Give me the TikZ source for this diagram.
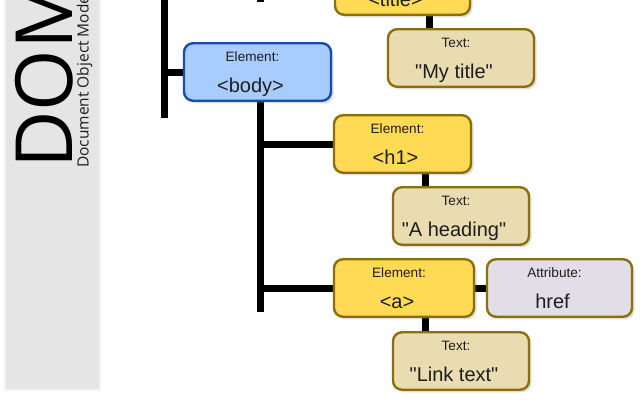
\documentclass[tikz,border=0pt]{standalone}
\usepackage{fontspec}
\setmainfont{Liberation Sans}
\newfontfamily\boxfont{Liberation Sans}
\newfontfamily\domfont{Open Sans}
\usepackage{tikz}
\usetikzlibrary{calc, shadows, backgrounds}
\definecolor{elemfill}{RGB}{255,218,85}
\definecolor{txtfill}{RGB}{232,220,176}
\definecolor{attrfill}{RGB}{226,221,230}
\definecolor{bodyfill}{RGB}{168,204,255}
\definecolor{bodyrim}{RGB}{22,76,170}
\definecolor{boxrim}{RGB}{138,112,8}
\definecolor{stripgray}{RGB}{229,229,229}
\definecolor{striprim}{RGB}{243,243,243}
\definecolor{ink}{RGB}{30,30,30}

\begin{document}
\begin{tikzpicture}[x=1pt, y=-1pt,
  box/.style={draw=boxrim, line width=2.4pt, rounded corners=9pt,
              minimum height=57.5pt, inner sep=0pt,
              drop shadow={shadow xshift=2.5pt, shadow yshift=-2.5pt, opacity=.25}},
  elem/.style={fill=elemfill},
  txt/.style={fill=txtfill},
  attr/.style={fill=attrfill},
  bodybox/.style={fill=bodyfill, draw=bodyrim},
  kind/.style={anchor=base, inner sep=0pt, text=ink, font=\boxfont\fontsize{13.6}{13.6}\selectfont},
  val/.style={anchor=base, inner sep=0pt, text=ink, font=\boxfont\fontsize{20}{20}\selectfont},
  tree/.style={line width=7pt}]

  \useasboundingbox (0,0) rectangle (640,400);

  % title strip
  \node[anchor=base west, rotate=90, inner sep=0pt, text=black,
        font=\domfont\fontsize{79}{79}\selectfont] (dom) at (72,169) {DOM};
  \node[anchor=base west, rotate=90, inner sep=0pt, text=ink,
        font=\domfont\fontsize{15.5}{15.5}\selectfont] (domsub) at (88.5,168) {Document Object Model};

  % boxes: name/style/x/y/width/kind/value
  \foreach \nm/\sty/\cx/\cy/\bw/\kind/\val in {
      title/elem/402.5/-14/135/Element:/<title>,
      mytitle/txt/461/58/146/Text:/"My title",
      body/bodybox/257.5/72/147/Element:/<body>,
      h1/elem/402.5/144/137/Element:/<h1>,
      heading/txt/461/216/136/Text:/"A heading",
      a/elem/404/288/140/Element:/<a>,
      href/attr/559.5/288/145/Attribute:/href,
      link/txt/461/361/136/Text:/"Link text"} {
    \node[box, \sty, minimum width=\bw] (\nm) at (\cx,\cy) {};
    \node[kind] (\nm-k) at ($(\nm)+(-5,-11)$) {\kind};
    \node[val]  (\nm-v) at ($(\nm)+(-7,20)$)  {\val};
  }

  \coordinate (roottop) at (164,-60);
  \coordinate (rootend) at (164,118);
  \coordinate (headtop) at (260,-60);
  \coordinate (headend) at (260,2);
  \coordinate (bodyend) at (260,312);

  \begin{scope}[on background layer]
    \draw[fill=stripgray, draw=striprim, line width=1.5pt] (5,-5) rectangle (100,390);

    \draw[tree] (roottop) -- (rootend);
    \draw[tree] (rootend |- body.west) -- (body.west);

    \draw[tree] (headtop) -- (headend);
    \draw[tree] (headtop |- title.west) -- (title.west);
    \draw[tree] ([xshift=26.5pt]title.south) -- ([xshift=-32pt]mytitle.north);

    \draw[tree] (body.south -| bodyend) -- (bodyend);
    \draw[tree] (bodyend |- h1.west) -- (h1.west);
    \draw[tree] (bodyend |- a.west) -- (a.west);
    \draw[tree] ([xshift=22.5pt]h1.south) -- ([xshift=-36pt]heading.north);
    \draw[tree] ([xshift=21pt]a.south) -- ([xshift=-36pt]link.north);
    \draw[tree] (a.east) -- (href.west);
  \end{scope}
\end{tikzpicture}
\end{document}
